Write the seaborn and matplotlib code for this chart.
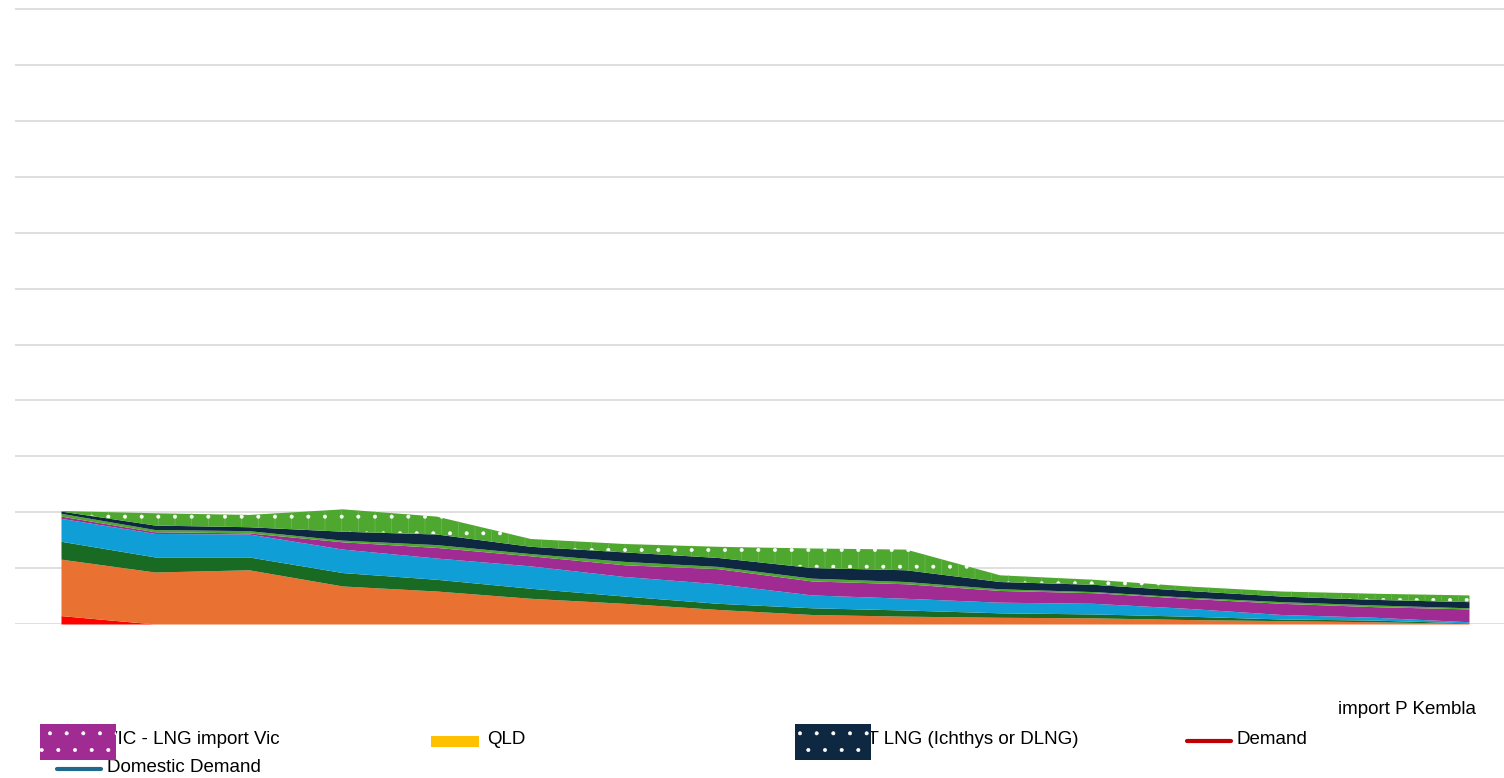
import numpy as np
import matplotlib
matplotlib.use("Agg")
import matplotlib.pyplot as plt
from matplotlib.patches import Rectangle
from matplotlib.lines import Line2D
import seaborn as sns

# Supply outlook, stacked from the bottom layer upwards (PJ per year)
years = list(range(2024, 2040))

red_supply = [15, 0, 0, 0, 0, 0, 0, 0, 0, 0, 0, 0, 0, 0, 0, 0]
orange_supply = [101, 93, 97, 68, 59, 46, 37, 26, 17, 14, 12, 11, 8, 6, 4, 1]
dark_green_supply = [32, 27, 23, 24, 21, 18, 13, 11, 12, 11, 8, 7, 6, 3, 3, 1]
blue_supply = [41, 42, 41, 42, 38, 40, 35, 35, 23, 21, 19, 19, 14, 8, 5, 2]
purple_supply = [4, 3, 2, 13, 19, 18, 21, 27, 25, 26, 21, 19, 18, 20, 19, 23]
light_green_supply = [5, 4, 4, 3, 5, 4, 6, 4, 5, 4, 3, 2, 2, 3, 3, 2]
navy_supply = [4, 8, 7, 16, 19, 13, 17, 16, 19, 21, 13, 13, 12, 10, 10, 11]
lng_import_pkembla = [1, 22, 22, 40, 32, 14, 15, 20, 35, 37, 12, 9, 8, 9, 11, 12]

layers = [red_supply, orange_supply, dark_green_supply, blue_supply,
          purple_supply, light_green_supply, navy_supply, lng_import_pkembla]
layer_colors = ["#FF0000", "#E97132", "#196B24", "#0F9ED5",
                "#A02B93", "#4EA72E", "#0E2841", "#4EA72E"]

# Legend entries visible under the chart
legend_labels = ["VIC - LNG import Vic", "QLD", "NT LNG (Ichthys or DLNG)",
                 "Demand", "Domestic Demand"]
partial_label = "import P Kembla"

sns.set_theme(style="white")
plt.rcParams["font.family"] = ["Liberation Sans", "DejaVu Sans"]
plt.rcParams["hatch.linewidth"] = 0.4

W, H = 1504, 778
fig = plt.figure(figsize=(W / 100, H / 100), dpi=100)
fig.patch.set_facecolor("white")


def fx(px):
    return px / W


def fy(py):
    return 1 - py / H


ax = fig.add_axes([fx(15), fy(624), fx(W - 15), (624 - 5) / H])

ax.stackplot(years, *layers, colors=layer_colors, linewidth=0, zorder=2)

# dotted pattern on the top layer
base = np.sum(np.array(layers[:-1]), axis=0)
top = base + np.array(lng_import_pkembla)
ax.fill_between(years, base, top, facecolor="none", edgecolor="#78C05B",
                hatch="|", linewidth=0, zorder=3)
ax.fill_between(years, base, top, facecolor="none", edgecolor="white",
                hatch=".", linewidth=0, zorder=4)

ax.set_xlim(years[0] - 0.49, years[0] + 15.373)
ax.set_ylim(0, 1107.4)
ax.set_yticks(np.arange(0, 1101, 100))
ax.grid(axis="y", color="#D9D9D9", linewidth=1.2)
ax.grid(axis="x", visible=False)
ax.set_axisbelow(True)
ax.tick_params(length=0, labelleft=False, labelbottom=False)
for s in ax.spines.values():
    s.set_visible(False)
ax.set_facecolor("white")

# ---- legend ----
text_kw = dict(fontsize=13.5, color="#000000", va="center", ha="left", zorder=3)

fig.text(fx(1338), fy(709), partial_label, **text_kw)

# VIC LNG import (purple dotted)
fig.text(fx(105), fy(739), legend_labels[0], **text_kw)
fig.add_artist(Rectangle((fx(40), fy(760)), fx(76), 36 / H, transform=fig.transFigure,
                         facecolor="#A02B93", edgecolor="white", hatch=".",
                         linewidth=0, zorder=5))

# QLD
fig.add_artist(Rectangle((fx(431), fy(747)), fx(48), 11 / H, transform=fig.transFigure,
                         facecolor="#FFC000", linewidth=0, zorder=5))
fig.text(fx(487), fy(739), legend_labels[1], **text_kw)

# NT LNG (navy dotted)
fig.text(fx(854), fy(739), legend_labels[2], **text_kw)
fig.add_artist(Rectangle((fx(795), fy(760)), fx(76), 36 / H, transform=fig.transFigure,
                         facecolor="#0E2841", edgecolor="white", hatch=".",
                         linewidth=0, zorder=5))

# Demand line
fig.add_artist(Line2D([fx(1187), fx(1231)], [fy(741), fy(741)], transform=fig.transFigure,
                      color="#C00000", linewidth=3, solid_capstyle="round", zorder=5))
fig.text(fx(1236), fy(739), legend_labels[3], **text_kw)

# Domestic demand line
fig.add_artist(Line2D([fx(57), fx(101)], [fy(769), fy(769)], transform=fig.transFigure,
                      color="#1F6A8C", linewidth=3, solid_capstyle="round", zorder=5))
fig.text(fx(107), fy(767), legend_labels[4], **text_kw)

fig.savefig("out.png", dpi=100, facecolor="white")
